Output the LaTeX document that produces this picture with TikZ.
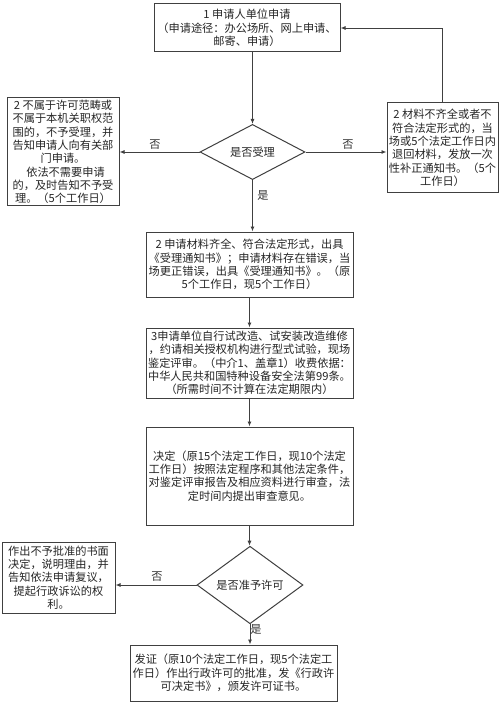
\documentclass[tikz,border=0pt]{standalone}
\usepackage{fontspec}
\setmainfont{Noto Sans CJK SC}
\usetikzlibrary{shapes.geometric,arrows.meta}
\tikzset{
  box/.style={draw=black!75, line width=1pt, align=center, inner sep=1pt, font=\fontsize{11.2}{13.3}\selectfont, text=black!85},
  dec/.style={draw=black!75, line width=1pt, shape=diamond, inner sep=0pt, font=\fontsize{11.2}{13.3}\selectfont, text=black!85},
  conn/.style={draw=black!75, line width=0.9pt, -{Latex[length=5pt,width=4pt]}},
  lbl/.style={font=\fontsize{11.2}{13.3}\selectfont, text=black!80}
}
\begin{document}
\begin{tikzpicture}[x=1pt,y=1pt]
\useasboundingbox[fill=white] (0,0) rectangle (499,-703);
\node[box, minimum width=186pt, minimum height=48pt] (b1) at (247,-28) {1\ 申请人单位申请\\（申请途径：办公场所、网上申请、\\邮寄、申请）};
\node[dec, minimum width=105pt, minimum height=46pt] (d1) at (252.5,-152) {是否受理};
\node[box, minimum width=112pt, minimum height=108pt] (l1) at (63,-152) {2\ 不属于许可范畴或\\不属于本机关职权范\\围的，不予受理，并\\告知申请人向有关部\\门申请。\\\ \ 依法不需要申请\\的，及时告知不予受\\理。（5个工作日）};
\node[box, minimum width=111pt, minimum height=90pt] (r1) at (442.5,-148) {2\ 材料不齐全或者不\\符合法定形式的，当\\场或5个法定工作日内\\退回材料，发放一次\\性补正通知书。（5个\\工作日）};
\node[box, minimum width=207pt, minimum height=65pt] (b2) at (249.5,-264.5) {2 申请材料齐全、符合法定形式，出具\\《受理通知书》；申请材料存在错误，当\\场更正错误，出具《受理通知书》。（原\\5个工作日，现5个工作日）};
\node[box, minimum width=207pt, minimum height=70pt] (b3) at (249.5,-363) {3申请单位自行试改造、试安装改造维修\\，约请相关授权机构进行型式试验，现场\\鉴定评审。（中介1、盖章1）收费依据：\\中华人民共和国特种设备安全法第99条。\\（所需时间不计算在法定期限内）};
\node[box, minimum width=207pt, minimum height=98pt] (b4) at (249.5,-476) {决定（原15个法定工作日，现10个法定\\工作日）按照法定程序和其他法定条件，\\对鉴定评审报告及相应资料进行审查，法\\定时间内提出审查意见。};
\node[dec, minimum width=106pt, minimum height=64pt] (d2) at (250,-585) {是否准予许可};
\node[box, minimum width=113pt, minimum height=71pt] (l2) at (58.5,-577.5) {作出不予批准的书面\\决定，说明理由，并\\告知依法申请复议，\\提起行政诉讼的权\\利。};
\node[box, minimum width=207pt, minimum height=56pt] (b5) at (233.5,-673) {发证（原10个法定工作日，现5个法定工\\作日）作出行政许可的批准，发《行政许\\可决定书》，颁发许可证书。};

\draw[conn] (d1.north |- b1.south) -- (d1.north);
\draw[conn] (d1.west) -- (l1.east);
\draw[conn] (d1.east) -- (d1.east -| r1.west);
\draw[conn] (r1.north) |- (b1.east);
\draw[conn] (d1.south) -- (d1.south |- b2.north);
\draw[conn] (b2.south) -- (b3.north);
\draw[conn] (b3.south) -- (b4.north);
\draw[conn] (b4.south) -- (b4.south |- d2.north);
\draw[conn] (d2.west) -- (d2.west -| l2.east);
\draw[conn] (d2.south) -- (d2.south |- b5.north);

\node[lbl] (n1) at (155,-145) {否};
\node[lbl] (n2) at (348,-145) {否};
\node[lbl] (y1) at (263,-195) {是};
\node[lbl] (n3) at (157,-577) {否};
\node[lbl] (y2) at (256,-629) {是};
\end{tikzpicture}
\end{document}
